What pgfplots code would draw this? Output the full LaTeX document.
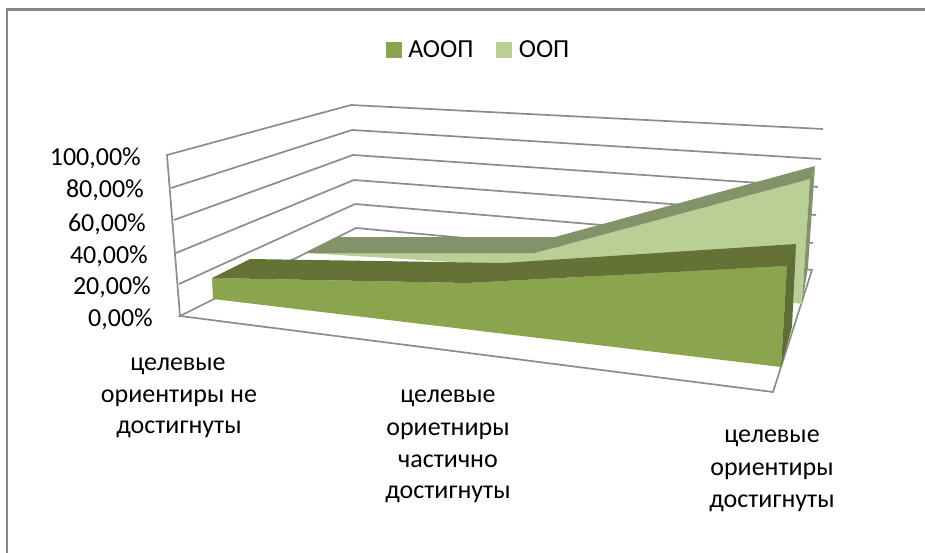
\documentclass[border=0pt]{standalone}
\usepackage{pgfplots}
\pgfplotsset{compat=1.18}
\usepackage{fontspec}
\setmainfont{Carlito}
\definecolor{aoopF}{HTML}{8AA54E}
\definecolor{aoopT}{HTML}{647236}
\definecolor{aoopS}{HTML}{5E6E34}
\definecolor{oopF}{HTML}{B9CF96}
\definecolor{oopT}{HTML}{82936A}
\definecolor{gridc}{HTML}{8C8C8C}
\definecolor{framec}{HTML}{868686}
\begin{document}
\begin{tikzpicture}
\begin{axis}[
  scale only axis, width=925pt, height=553pt,
  xmin=0, xmax=925, ymin=0, ymax=553, y dir=reverse,
  hide axis, clip=true,
  legend columns=2,
  legend style={at={(axis cs:386,50)},anchor=west,draw=none,fill=none,
    inner sep=0pt,outer sep=0pt,font=\fontsize{26}{31}\selectfont,
    /tikz/every odd column/.style={column sep=5pt},
    /tikz/every even column/.style={column sep=21pt}},
  legend cell align=left,
  legend image code/.code={\fill[#1] (0pt,-7.5pt) rectangle (15pt,7.5pt);},
  every axis plot/.append style={forget plot},
]
\path[use as bounding box] (axis cs:0,0) rectangle (axis cs:925,553);
\addlegendimage{aoopF}
\addlegendentry{АООП}
\addlegendimage{oopF}
\addlegendentry{ООП}
% chart frame
\addplot[color=framec,line width=2.2pt] coordinates {(7,553) (7,9.5) (925,9.5)};
% left wall + back wall gridlines
\addplot[color=gridc,line width=1.7pt] coordinates {(180,316) (167,155) (351,105) (823,129)};
\addplot[color=gridc,line width=1.7pt] coordinates {(171,188) (352,130) (821,159)};
\addplot[color=gridc,line width=1.7pt] coordinates {(174,220) (353,155) (818,187)};
\addplot[color=gridc,line width=1.7pt] coordinates {(176,253) (354,180) (816,215)};
\addplot[color=gridc,line width=1.7pt] coordinates {(179,284) (355,204) (813,243)};
% floor
\addplot[color=gridc,line width=1.7pt] coordinates {(356,228) (180,316) (773,392) (812,270) (356,228)};
% series OOP
\addplot[fill=oopF,draw=none] coordinates {(305,253) (535,253) (810,179) (802,304) (503,265)} -- cycle;
\addplot[fill=oopT,draw=none] coordinates {(305,253) (338,237) (555,237) (815,166) (810,179) (535,253)} -- cycle;
\addplot[fill=oopT,draw=none] coordinates {(815,166) (810,179) (802,304) (808,267)} -- cycle;
% series AOOP
\addplot[fill=aoopF,draw=none] coordinates {(212,278) (467,283) (787,266) (781,367) (213,299)} -- cycle;
\addplot[fill=aoopT,draw=none] coordinates {(212,278) (250,259) (503,263) (796,244) (787,266) (467,283)} -- cycle;
\addplot[fill=aoopS,draw=none] coordinates {(796,244) (787,266) (781,367) (792,327)} -- cycle;
% value labels
\begin{scope}[every node/.style={anchor=base east,inner sep=0pt,font=\fontsize{26}{31}\selectfont}]
\node at (axis cs:141,166) {100,00\%};
\node at (axis cs:144,198) {80,00\%};
\node at (axis cs:146,231) {60,00\%};
\node at (axis cs:148,263) {40,00\%};
\node at (axis cs:151,294) {20,00\%};
\node at (axis cs:153,326) {0,00\%};
\end{scope}
% category labels
\begin{scope}[every node/.style={anchor=base,inner sep=0pt,font=\fontsize{26}{31}\selectfont}]
\node at (axis cs:178,370) {целевые};
\node at (axis cs:179,402) {ориентиры не};
\node at (axis cs:179,433) {достигнуты};
\node at (axis cs:448,402) {целевые};
\node at (axis cs:448,435) {ориетниры};
\node at (axis cs:448,467) {частично};
\node at (axis cs:448,498) {достигнуты};
\node at (axis cs:772,442) {целевые};
\node at (axis cs:772,475) {ориентиры};
\node at (axis cs:772,507) {достигнуты};
\end{scope}
\end{axis}
\end{tikzpicture}
\end{document}
